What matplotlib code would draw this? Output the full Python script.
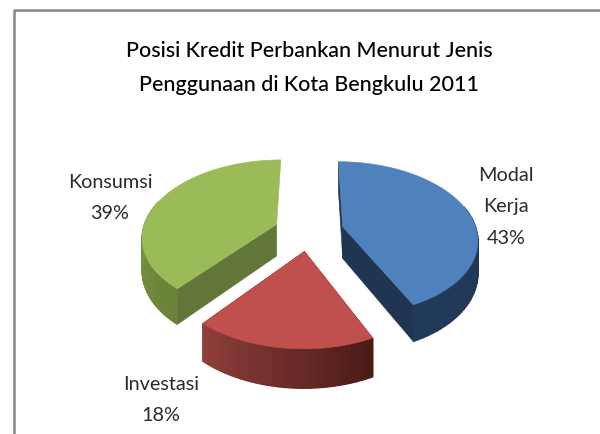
import numpy as np
import matplotlib
matplotlib.use("Agg")
import matplotlib.pyplot as plt
from matplotlib.patches import Polygon
from matplotlib.lines import Line2D
from matplotlib.colors import to_rgb

title = "Posisi Kredit Perbankan Menurut Jenis\nPenggunaan di Kota Bengkulu 2011"
categories = ["Modal\nKerja", "Investasi", "Konsumsi"]
values = [43, 18, 39]

top_colors = ["#4f81bd", "#c0504d", "#9bbb59"]
face_colors = ["#1f3552", "#5a2320", "#62763a"]
# outer wall colour at each end of the arc (clockwise end first)
wall_colors = [("#1b2e48", "#223a5a"), ("#4a1a17", "#8f3f3b"), ("#6a8239", "#8eac52")]
label_pos = [(506, 207), (161, 400), (110, 198)]

# perspective of the pie, in pixels
cx, cy = 309, 232
rx, ry = 134, 76
persp = 0.15
depth = 32

plt.rcParams["font.family"] = ["Lato", "DejaVu Sans"]

fig = plt.figure(figsize=(6, 4.35), dpi=100)

# the pie gives the wedge angles and offsets, they get projected below
geom = fig.add_axes([0, 0, 1, 1])
wedges, _ = geom.pie(values, explode=[0.26, 0.26, 0.26], startangle=90, counterclock=False)
geom.set_visible(False)

ax = fig.add_axes([0, 0, 1, 1])
ax.set_xlim(0, 600)
ax.set_ylim(435, 0)
ax.axis("off")


def project(x, y, z=0.0):
    w = 1 + persp * y
    return cx + rx * x / w, cy - ry * y / w + depth * z / w


def quad(p, q, color, zorder, lw=0.4):
    pts = [project(*p), project(*q), project(*q, 1), project(*p, 1)]
    ax.add_patch(Polygon(pts, closed=True, fc=color, ec=color, lw=lw, zorder=zorder))


for i, w in enumerate(wedges):
    x0, y0 = w.center
    t = np.radians(np.linspace(w.theta2, w.theta1, 70))
    ox = x0 + w.r * np.cos(t)
    oy = y0 + w.r * np.sin(t)
    z = 10 * (i + 1)

    quad((x0, y0), (ox[0], oy[0]), face_colors[i], z)
    # the right face of the green slice does not show in the reference
    if i != 2:
        quad((x0, y0), (ox[-1], oy[-1]), face_colors[i], z)

    c0, c1 = np.array(to_rgb(wall_colors[i][0])), np.array(to_rgb(wall_colors[i][1]))
    for k in range(len(t) - 1):
        # back part of the wall is hidden behind the top
        if np.sin(t[k]) > 0.3:
            continue
        f = k / (len(t) - 2)
        quad((ox[k], oy[k]), (ox[k + 1], oy[k + 1]), tuple(c0 + (c1 - c0) * f), z + 1, lw=0.9)

    top = [project(x0, y0)] + [project(a, b) for a, b in zip(ox, oy)]
    ax.add_patch(Polygon(top, closed=True, fc=top_colors[i], ec=top_colors[i], lw=0.4, zorder=z + 2))

    ax.text(label_pos[i][0], label_pos[i][1], f"{categories[i]}\n{values[i]}%", ha="center", va="center",
            fontsize=14.3, color="#2a2a2a", linespacing=2.05, zorder=50)

ax.text(309, 68, title, ha="center", va="center", fontsize=15.5, color="black", fontweight="medium",
        linespacing=1.85, zorder=50)

# chart frame, only the top and left are inside the crop
fig.add_artist(Line2D([14 / 600, 14 / 600, 1], [0, 1 - 11 / 435, 1 - 11 / 435], color="#868686", lw=1.8))

fig.savefig("out.png", dpi=100)
